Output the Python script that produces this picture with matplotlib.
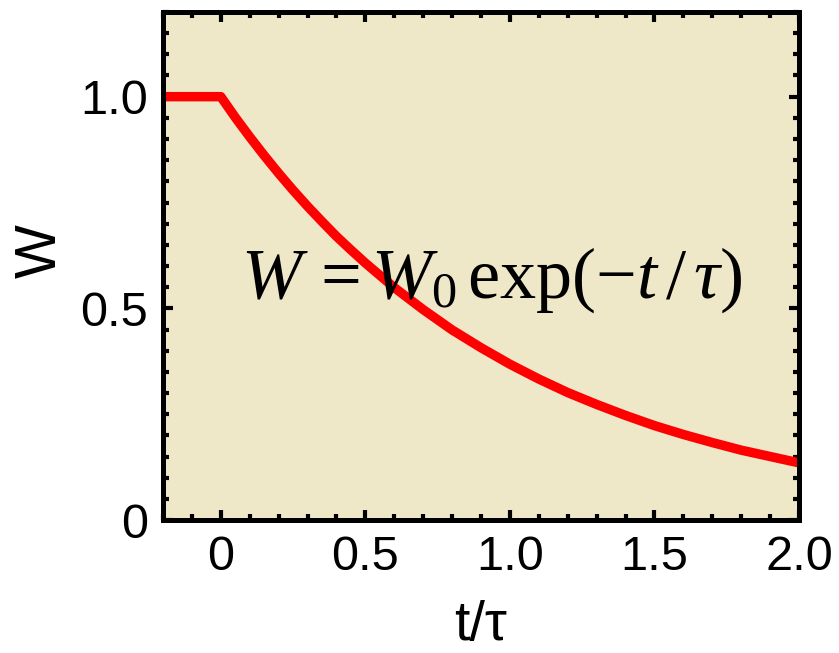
import numpy as np
import matplotlib
matplotlib.use("Agg")
from matplotlib import pyplot as plt
from matplotlib.ticker import MultipleLocator

# values
t = [-0.2, 0.0, 0.05, 0.1, 0.15, 0.2, 0.25, 0.3, 0.35, 0.4, 0.45, 0.5,
     0.6, 0.7, 0.8, 0.9, 1.0, 1.1, 1.2, 1.3, 1.4, 1.5, 1.6, 1.7, 1.8, 1.9, 2.0]
W = [1.0, 1.0, 0.951, 0.905, 0.861, 0.819, 0.779, 0.741, 0.705, 0.670, 0.638, 0.607,
     0.549, 0.497, 0.449, 0.407, 0.368, 0.333, 0.301, 0.273, 0.247, 0.223,
     0.202, 0.183, 0.165, 0.150, 0.135]

xticks = [0, 0.5, 1.0, 1.5, 2.0]
xticklabels = ["0", "0.5", "1.0", "1.5", "2.0"]
yticks = [0, 0.5, 1.0]
yticklabels = ["0", "0.5", "1.0"]

plt.rcParams['font.family'] = ['Liberation Sans', 'DejaVu Sans']
plt.rcParams['mathtext.fontset'] = 'custom'
plt.rcParams['mathtext.rm'] = 'Liberation Serif'
plt.rcParams['mathtext.it'] = 'Liberation Serif:italic'

fig = plt.figure(figsize=(8.39, 6.53), dpi=100)
ax = fig.add_axes([163/839, 1-520/653, 636/839, 508/653])
ax.set_facecolor("#EFE8C8")

ax.plot(t, W, color="#FF0000", lw=6.8, solid_joinstyle="round", solid_capstyle="butt")

ax.set_xlim(-0.2, 2.0)
ax.set_ylim(0, 1.2)
ax.set_xticks(xticks)
ax.set_xticklabels(xticklabels)
ax.set_yticks(yticks)
ax.set_yticklabels(yticklabels)
ax.xaxis.set_minor_locator(MultipleLocator(0.1))
ax.yaxis.set_minor_locator(MultipleLocator(0.05))

for s in ax.spines.values():
    s.set_linewidth(3.6)
ax.tick_params(which="both", direction="in", top=True, right=True, width=3, labelsize=35, pad=11)
ax.tick_params(which="major", length=7)
ax.tick_params(which="minor", length=4.5)

ax.set_xlabel("t/τ", fontsize=40, labelpad=14)
ax.set_ylabel("W", fontsize=41)
ax.yaxis.set_label_coords(-0.15, 0.53)

ax.text(0.07, 0.525, r"$W\,=W_0\,\exp(-t\,/\,\tau)$", fontsize=52, va="baseline", ha="left")

fig.savefig("out.png", dpi=100)
